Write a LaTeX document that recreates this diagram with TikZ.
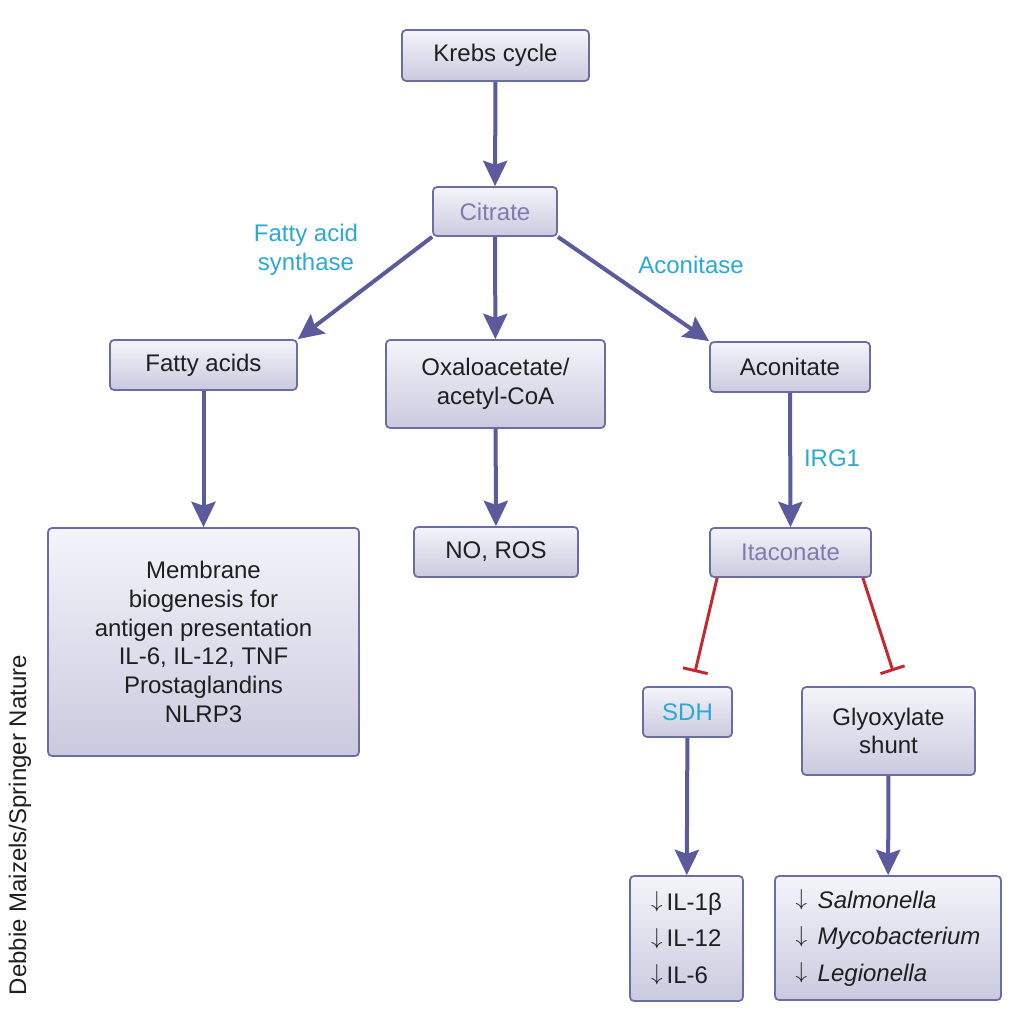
\documentclass[tikz,border=0pt]{standalone}
\usepackage{fontspec}
\setmainfont{Liberation Sans}
\usetikzlibrary{arrows.meta,calc}
\definecolor{boxline}{HTML}{6B6BA6}
\definecolor{boxtop}{HTML}{F4F4FA}
\definecolor{boxbottom}{HTML}{CACADF}
\definecolor{flowblue}{HTML}{5A5A9C}
\definecolor{enzcyan}{HTML}{2BA8D4}
\definecolor{inhibred}{HTML}{C8252E}
\definecolor{metabtext}{HTML}{7C7CAE}
\newcommand{\dn}{\raisebox{2pt}{$\downarrow$}\,}
\begin{document}
\begin{tikzpicture}[
    x=0.75pt, y=-0.75pt,
    every node/.style={font=\fontsize{18}{21.5}\selectfont, text=black!88},
    px size/.style 2 args={minimum width=#1*0.75pt, minimum height=#2*0.75pt},
    box/.style={draw=boxline, line width=1.3pt, rounded corners=3pt,
        top color=boxtop, bottom color=boxbottom, align=center, inner sep=2pt},
    enzyme/.style={text=enzcyan, align=center},
    flow/.style={draw=flowblue, line width=3pt, -{Stealth[length=19pt, width=18pt, inset=3pt]}},
    inhibit/.style={draw=inhibred, line width=2.2pt, -{Bar[width=19pt]}}
]
\useasboundingbox (0,0) rectangle (1024,1022);

% Boxes
\node[box, px size={187}{51}] (krebs) at (495.5,55.5) {Krebs cycle};
\node[box, px size={124}{49}, text=metabtext] (cit) at (495,211.5) {Citrate};
\node[box, px size={187}{50}] (fa) at (203.5,365) {Fatty acids};
\node[box, px size={219}{88}] (oaa) at (495.5,384) {Oxaloacetate/\\acetyl-CoA};
\node[box, px size={160}{50}] (acon) at (790,367) {Aconitate};
\node[box, px size={311}{228}] (memb) at (203.5,642)
    {Membrane\\biogenesis for\\antigen presentation\\IL-6, IL-12, TNF\\Prostaglandins\\NLRP3};
\node[box, px size={164}{50}] (noros) at (496,552) {NO, ROS};
\node[box, px size={161}{49}, text=metabtext] (ita) at (790.5,552.5) {Itaconate};
\node[box, px size={89}{50}, text=enzcyan] (sdh) at (687.5,712) {SDH};
\node[box, px size={173}{88}] (glyox) at (888.5,731) {Glyoxylate\\shunt};
\node[box, px size={113}{125}, align=left] (cyto) at (686.5,938.5)
    {\dn IL-1β\\[6pt]\dn IL-12\\[6pt]\dn IL-6};
\node[box, px size={226}{124}, align=left] (bact) at (888,938)
    {\dn\ \textit{Salmonella}\\[6pt]\dn\ \textit{Mycobacterium}\\[6pt]\dn\ \textit{Legionella}};

% Enzyme labels
\node[enzyme] (fasl) at (306,250) {Fatty acid\\synthase};
\node[enzyme] (aconl) at (691,265) {Aconitase};
\node[enzyme] (irg) at (832,458) {IRG1};

% Credit
\node[rotate=90] (credit) at (20,825) {Debbie Maizels/Springer Nature};

% Arrows
\draw[flow] (krebs) -- (cit);
\draw[flow] (cit.south west) -- (fa.north east);
\draw[flow] (cit) -- (oaa);
\draw[flow] (cit.south east) -- (acon.north west);
\draw[flow] (fa) -- (memb);
\draw[flow] (oaa) -- (noros);
\draw[flow] (acon) -- (ita);
\draw[flow] (sdh) -- (cyto);
\draw[flow] (glyox) -- (bact);

% Inhibition
\draw[inhibit] ($(ita.south west)+(8,0)$) -- ($(sdh.north)+(7.5,-14)$);
\draw[inhibit] ($(ita.south east)+(-9,0)$) -- ($(glyox.north)+(4.5,-15)$);
\end{tikzpicture}
\end{document}
